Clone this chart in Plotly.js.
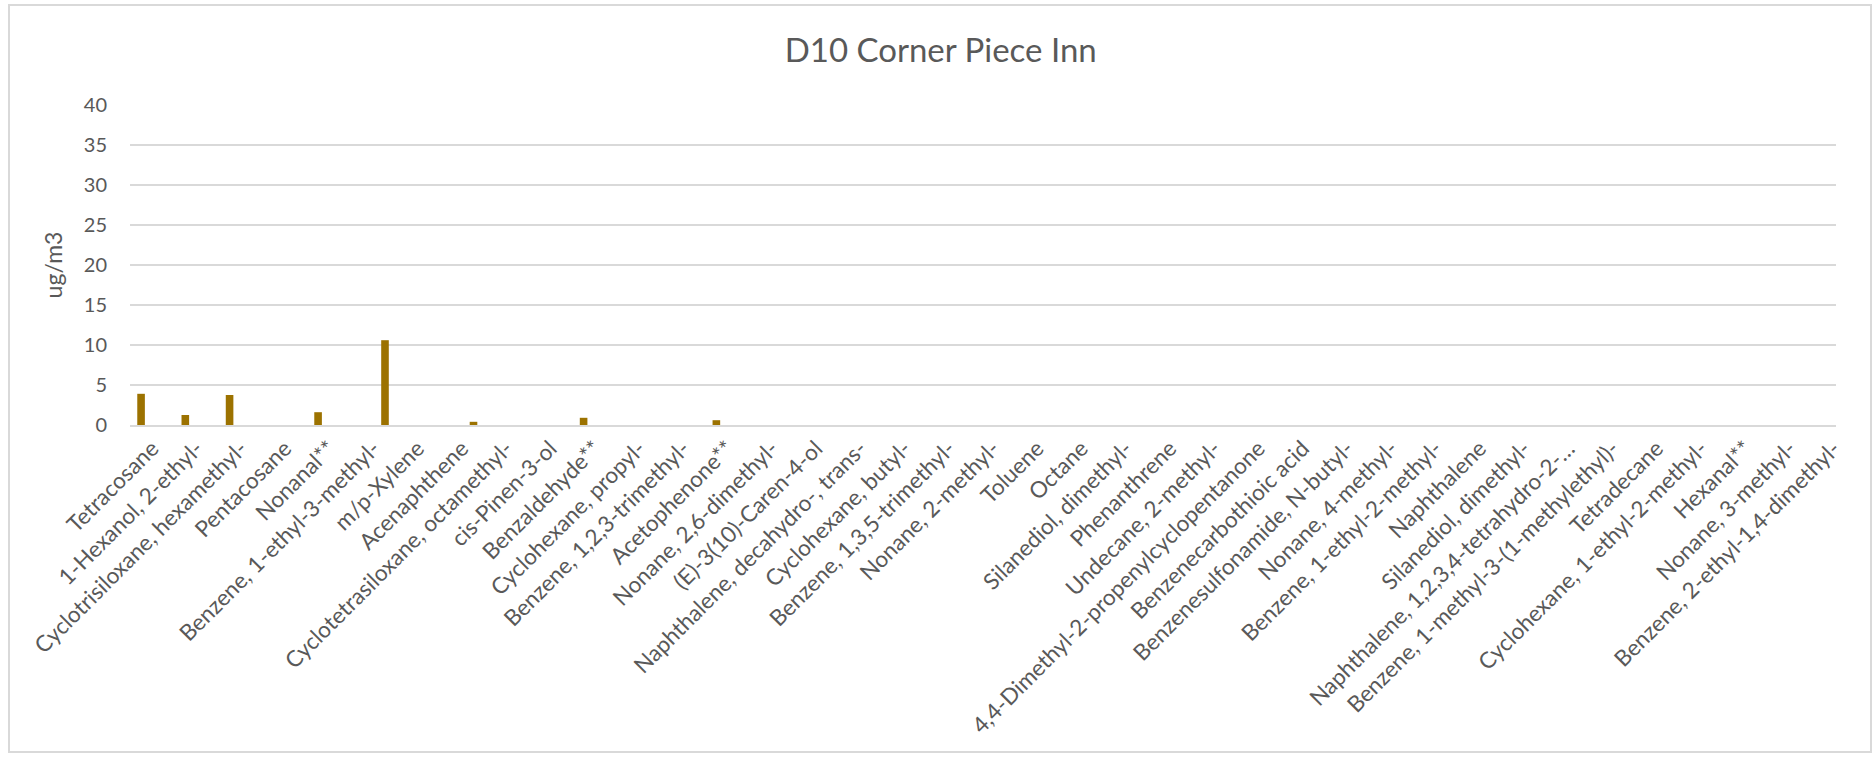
<!DOCTYPE html>
<html>
<head>
<meta charset="utf-8">
<script src="https://cdn.plot.ly/plotly-3.0.1.min.js"></script>
<style>
  html, body { margin: 0; padding: 0; background: #ffffff; }
  #frame { position: absolute; left: 8px; top: 4px; width: 1864px; height: 749px; border: 2px solid #d9d9d9; box-sizing: border-box; pointer-events: none; z-index: 5; }
  #chart { position: absolute; left: 0; top: 0; width: 1874px; height: 757px; }
</style>
</head>
<body>
<div id="chart"></div>
<div id="frame"></div>
<script>
const chartTitle = "D10 Corner Piece Inn";
const yTitle = "ug/m3";

const categories = [
  "Tetracosane",
  "1-Hexanol, 2-ethyl-",
  "Cyclotrisiloxane, hexamethyl-",
  "Pentacosane",
  "Nonanal**",
  "Benzene, 1-ethyl-3-methyl-",
  "m/p-Xylene",
  "Acenaphthene",
  "Cyclotetrasiloxane, octamethyl-",
  "cis-Pinen-3-ol",
  "Benzaldehyde**",
  "Cyclohexane, propyl-",
  "Benzene, 1,2,3-trimethyl-",
  "Acetophenone**",
  "Nonane, 2,6-dimethyl-",
  "(E)-3(10)-Caren-4-ol",
  "Naphthalene, decahydro-, trans-",
  "Cyclohexane, butyl-",
  "Benzene, 1,3,5-trimethyl-",
  "Nonane, 2-methyl-",
  "Toluene",
  "Octane",
  "Silanediol, dimethyl-",
  "Phenanthrene",
  "Undecane, 2-methyl-",
  "4,4-Dimethyl-2-propenylcyclopentanone",
  "Benzenecarbothioic acid",
  "Benzenesulfonamide, N-butyl-",
  "Nonane, 4-methyl-",
  "Benzene, 1-ethyl-2-methyl-",
  "Naphthalene",
  "Silanediol, dimethyl-",
  "Naphthalene, 1,2,3,4-tetrahydro-2-…",
  "Benzene, 1-methyl-3-(1-methylethyl)-",
  "Tetradecane",
  "Cyclohexane, 1-ethyl-2-methyl-",
  "Hexanal**",
  "Nonane, 3-methyl-",
  "Benzene, 2-ethyl-1,4-dimethyl-"
];

// first series (left-most bar in each cluster)
const series1 = [3.9, 1.25, 3.75, null, 1.6, null, null, null, null, null,
                 0.9, null, null, 0.6, null, null, null, null, null, null,
                 null, null, null, null, null, null, null, null, null, null,
                 null, null, null, null, null, null, null, null, null];
// last series (right-most bar in each cluster)
const series4 = [null, null, null, null, null, 10.6, null, 0.4, null, null,
                 null, null, null, null, null, null, null, null, null, null,
                 null, null, null, null, null, null, null, null, null, null,
                 null, null, null, null, null, null, null, null, null];

const yTicks = [0, 5, 10, 15, 20, 25, 30, 35, 40];

const positions = categories.map((c, i) => i);
const barColor = "#9c7200";
const FONT = "Lato, 'Open Sans', sans-serif";
const bw = 0.172;

const traces = [
  { type: "bar", x: positions, y: series1, width: bw, offset: -0.25 - bw / 2,
    marker: { color: barColor }, hoverinfo: "y", showlegend: false },
  { type: "bar", x: positions, y: series4, width: bw, offset: 0.262 - bw / 2,
    marker: { color: barColor }, hoverinfo: "y", showlegend: false }
];

const layout = {
  width: 1874, height: 757,
  paper_bgcolor: "#ffffff", plot_bgcolor: "#ffffff",
  margin: { l: 130, r: 38, t: 105, b: 332 },
  barmode: "overlay",
  title: { text: chartTitle, x: 0.502, xanchor: "center", y: 0.934, yanchor: "middle",
           font: { family: FONT, size: 33, color: "#595959" } },
  font: { family: FONT, color: "#595959" },
  xaxis: {
    range: [-0.5, 38.05],
    tickmode: "array", tickvals: positions, ticktext: categories,
    tickangle: -45, tickfont: { family: FONT, size: 22.5, color: "#595959" },
    showgrid: false, zeroline: false,
    showline: true, linecolor: "#d9d9d9", linewidth: 1.5,
    ticks: "", automargin: false
  },
  yaxis: {
    range: [0, 40], tickmode: "array", tickvals: yTicks,
    tickfont: { family: FONT, size: 20, color: "#595959" },
    showgrid: true, gridcolor: "#d9d9d9", gridwidth: 1.5,
    zeroline: false, showline: false, ticks: "",
    ticklabelstandoff: 22,
    title: { text: yTitle, standoff: 14, font: { family: FONT, size: 23, color: "#595959" } },
    automargin: false
  }
};

Plotly.newPlot("chart", traces, layout, { displayModeBar: false, staticPlot: true });
</script>
</body>
</html>
